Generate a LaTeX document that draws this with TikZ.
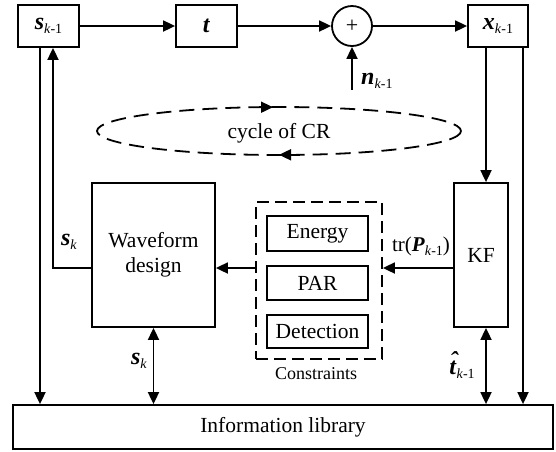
\documentclass[tikz,border=0pt]{standalone}
\usepackage{fontspec}
\setmainfont{Liberation Serif}
\usetikzlibrary{arrows.meta}
\newcommand\bv[1]{\textbf{\textit{#1}}}
\newcommand\sbk[1]{\raisebox{-4.5pt}{\fontsize{14}{16}\selectfont\textit{k}#1}}
\begin{document}
\begin{tikzpicture}[x=1pt,y=-1pt,
  lw/.style={line width=1.8pt},
  box/.style={draw,lw,rectangle,inner sep=0pt,font=\fontsize{21.5}{25}\selectfont,align=center},
  arr/.style={lw,-{Triangle[length=12pt,width=11pt]}},
  darr/.style={lw,{Triangle[length=12pt,width=11pt]}-{Triangle[length=12pt,width=11pt]}},
  lbl/.style={font=\fontsize{24}{26}\selectfont,inner sep=0pt},
  dbox/.style={draw,lw,dash pattern=on 12pt off 6pt,inner sep=0pt},
  ]
\useasboundingbox (0,0) rectangle (556,451);
% top row
\node[box,minimum width=61pt,minimum height=42pt,font=\fontsize{24}{26}\selectfont] (sk1) at (48.5,26) {\bv{s}\sbk{-1}};
\node[box,minimum width=61pt,minimum height=42pt,font=\fontsize{24}{26}\selectfont] (t) at (206.5,26) {\bv{t}};
\node[draw,lw,circle,minimum size=40pt,inner sep=0pt,font=\fontsize{22}{24}\selectfont] (plus) at (352,26) {+};
\node[box,minimum width=60pt,minimum height=42pt,font=\fontsize{24}{26}\selectfont] (xk1) at (498,26) {\bv{x}\sbk{-1}};
% middle
\node[box,minimum width=123pt,minimum height=144pt] (wf) at (153.5,255) {Waveform\\design};
\node[box,minimum width=54pt,minimum height=144pt] (kf) at (481,255) {KF};
\node[dbox,minimum width=126pt,minimum height=157pt] (cons) at (319,280.5) {};
\node[box,minimum width=101pt,minimum height=35pt] (en) at (317.5,233.5) {Energy};
\node[box,minimum width=101pt,minimum height=34pt] (par) at (317.5,283) {PAR};
\node[box,minimum width=101pt,minimum height=33pt] (det) at (317.5,331.5) {Detection};
\node[font=\fontsize{18}{20}\selectfont,inner sep=0pt] (conslbl) at (316,374) {Constraints};
% library
\node[box,minimum width=540pt,minimum height=44pt] (lib) at (283,427) {Information library};
% cycle
\draw[lw,dash pattern=on 15pt off 8pt] (279,131) ellipse [x radius=182, y radius=24];
\node[font=\fontsize{21.5}{25}\selectfont,inner sep=0pt] (cyc) at (279,133) {cycle of CR};
\coordinate (ca1) at (260,107.2);
\coordinate (ca2) at (273,107.2);
\coordinate (cb1) at (292,154.8);
\coordinate (cb2) at (279,154.8);
\draw[arr] (ca1) -- (ca2);
\draw[arr] (cb1) -- (cb2);
% connectors top
\draw[arr] (sk1.east) -- (t.west);
\draw[arr] (t.east) -- (plus.west);
\draw[arr] (plus.east) -- (xk1.west);
\coordinate (nst) at (352,90);
\draw[arr] (nst) -- (plus.south);
\node[lbl,anchor=west] (nlbl) at (361,81) {\bv{n}\sbk{-1}};
% verticals
\draw[arr] ([xshift=-12pt]xk1.south) -- ([xshift=-12pt]xk1.south |- kf.north);
\draw[arr] ([xshift=25pt]xk1.south) -- ([xshift=25pt]xk1.south |- lib.north);
\draw[arr] ([xshift=-8.5pt]sk1.south) -- ([xshift=-8.5pt]sk1.south |- lib.north);
\coordinate (wfL) at ([yshift=-13pt]wf.west);
\coordinate (wfR) at ([yshift=-13pt]wf.east);
\draw[arr] (wfL) -| ([xshift=4.5pt]sk1.south);
\node[lbl] (sklbl) at (69,242) {\bv{s}\sbk{}};
\draw[arr] (cons.west |- wfR) -- (wfR);
\draw[arr] (kf.west |- wfR) -- (cons.east |- wfR);
\node[font=\fontsize{21}{24}\selectfont,inner sep=0pt] (trlbl) at (421,246) {tr(\bv{P}\sbk{-1})};
\draw[darr] (wf.south) -- (wf.south |- lib.north);
\node[lbl] (sk2lbl) at (139,361) {\bv{s}\sbk{}};
\draw[darr] ([xshift=5pt]kf.south) -- ([xshift=5pt]kf.south |- lib.north);
\node[lbl] (thlbl) at (462,365) {\bv{\makebox[0pt][l]{\kern0.5pt\raisebox{6pt}{\symbol{"02C6}}}t}\sbk{-1}};
\end{tikzpicture}
\end{document}
